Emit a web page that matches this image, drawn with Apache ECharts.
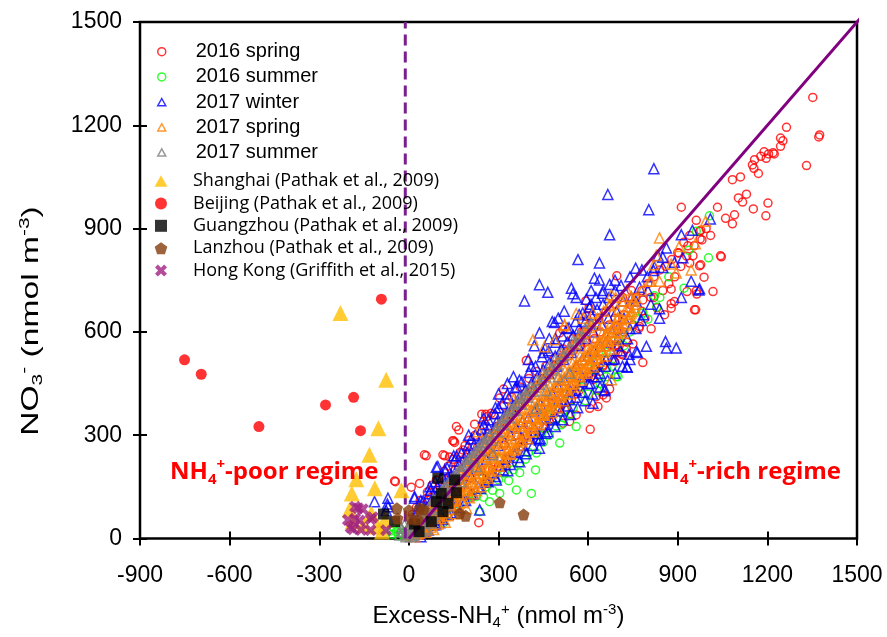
<!DOCTYPE html>
<html><head><meta charset="utf-8">
<script src="https://cdn.jsdelivr.net/npm/echarts@6/dist/echarts.min.js"></script>
<style>html,body{margin:0;padding:0;background:#fff}#c{width:887px;height:637px}</style>
</head><body><div id="c"></div>
<script>
const xTicks = [-900,-600,-300,0,300,600,900,1200,1500];
const yTicks = [0,300,600,900,1200,1500];
const legendNames = ['2016 spring','2016 summer','2017 winter','2017 spring','2017 summer','Shanghai (Pathak et al., 2009)','Beijing (Pathak et al., 2009)','Guangzhou (Pathak et al., 2009)','Lanzhou (Pathak et al., 2009)','Hong Kong (Griffith et al., 2015)'];
const oneToOne = [[0,0],[1515,1515]];
const dashedX = -12;

const spring2016 = [
[1352,1281],[1264,1194],[1244,1163],[1252,1155],[1244,1139],[1372,1166],[1375,1172],[1189,1123],[1178,1110],[1196,1104],[1204,1117],[1219,1120],[1223,1117],[1157,1100],[1150,1085],[1155,1075],[1331,1083],[1083,1042],[1103,989],[1117,977],[1033,962],[1153,957],[1202,974],[1090,940],[1195,937],[1083,914],[1043,821],[1046,818],[988,759],[1018,717],[977,795],[981,867],[977,895],[912,962],[962,924],[973,892],[934,850],[904,829],[951,821],[940,800],[931,717],[964,710],[878,724],[878,682],[878,669],[856,650],[956,664],[960,664],[811,609],[772,616],[750,565],[728,550],[783,511],[716,533],[689,514],[672,434],[700,562],[675,562],[700,618],[696,763],[889,688],[973,792],[962,719],[783,693],
[592,690],[603,669],[393,517],[317,434],[304,408],[244,361],[262,354],[159,325],[167,315],[220,332],[147,284],[114,243],[136,237],[181,257],[516,606],[505,597],[571,558],[594,645],[257,361],[276,364],[150,283],[58,240],[120,240],[-48,167],[8,149],[52,243],[36,160],[153,279],[-45,165],
[678,562],[711,536],[650,504],[638,485],[616,461],[603,480],[661,408],[650,417],[627,412],[633,383],[605,378],[544,403],[527,374],[560,359],[607,317],[516,335],[493,349],[471,359],[326,209],[376,267],[538,340],[521,374],[234,46],
[0,25],[10,45],[20,60],[30,20],[40,80],[50,95],[55,30],[65,110],[75,120],[85,60],[95,140],[105,150],[115,90],[125,170],[135,180],[145,120],[155,200],[165,210],[175,150],[185,225],[195,235],[205,175],[215,250],[230,265],[240,200],[255,290],[270,305],[280,240],[295,325],[310,340],[320,270],[335,360],[350,375],[360,300],[375,395],[390,410],[400,330],[415,430],[430,445],[440,360],[455,465],[470,480],[480,390],[495,500],[510,515],[520,420],[535,530],[550,545],[560,450],[575,560],[590,570],[600,470],[620,580],[640,600],[650,500],[670,620],[690,640],[700,540],[720,650],[740,680],[760,700],[780,720],[800,740],[820,760],[840,780],[860,790],[880,810],[900,830],[920,860],[940,880],
[12,70],[25,90],[38,110],[45,10],[62,135],[78,155],[92,170],[102,50],[118,195],[132,210],[148,230],[162,95],[172,250],[188,270],[202,285],[222,300],[248,330],[262,160],[285,360],[300,210],[318,385],[345,410],[372,440],[395,300],[402,465],[428,485],[450,320],[458,500],[488,525],[505,380],[518,550],[548,580],[570,430],[578,600],[605,620],[625,490],[635,640],[660,660],[680,520],[690,680],[715,700],[730,570],[745,720],[770,610],[790,640],[810,700],[830,670],[850,720],[870,740],[890,760],[910,790],[930,820],[955,850],[975,870],[995,900],[1010,880],[1060,930],[1110,1050],[1130,1000],[1170,1060],
[18,35],[33,55],[52,75],[68,95],[88,115],[108,128],[126,150],[146,168],[166,188],[186,206],[206,226],[226,244],[246,266],[266,284],[286,302],[306,322],[326,344],[346,362],[366,384],[386,402],[406,424],[426,442],[446,462],[466,480],[486,500],[506,520],[526,540],[546,562],[566,580],[586,600],
[210,120],[280,200],[330,230],[370,280],[420,300],[470,340],[510,390],[560,420],[610,470],[640,520],[690,560],[720,600],[750,620],[780,660],[820,700]
];
const summer2016 = [
[505,277],[424,199],[410,131],[360,141],[371,219],[270,107],[304,131],[560,325],[226,122],[237,78],[114,44],[493,327],[427,248],[334,168],[371,191],[700,470],[616,512],[661,495],[694,470],[661,470],[822,705],[783,655],[800,637],[921,727],[937,837],[962,892],[1006,937],[1003,815],[600,420],[640,450],[550,380],[520,350],[470,300],[450,280],[400,250],[350,200],[300,170],[260,150],[200,120],[150,90],[100,70],[60,40],[30,15],[-42,20],[-55,12],[-30,28],[-20,10],[-10,20],[-50,30],[-35,8],[-60,22],[-25,18],[0,5],[10,12],[480,380],[580,440],[660,540],[740,600],[720,560],[760,640],[840,700],[870,760],[620,490],[530,420],[460,360],[702,582],[830,672],[560,470],
[50,20],[80,35],[130,70],[170,100],[210,130],[250,120],[280,140],[320,190],[390,230],[440,300],[510,330],[540,360],[590,400],[630,430],[680,500],[250,180],[300,230]
];
const winter2017 = [
[20,40],[35,60],[50,85],[60,50],[75,110],[90,120],[100,80],[110,140],[125,100],[135,165],[150,180],[160,140],[175,200],[185,160],[200,235],[210,180],[225,255],[235,200],[250,280],[260,230],[270,300],[280,250],[290,320],[300,270],[310,340],[320,280],[330,365],[340,300],[350,385],[360,320],[370,410],[380,340],[390,430],[400,350],[410,450],[420,370],[430,470],[440,390],[450,490],[460,400],[470,510],[480,420],[490,530],[500,440],[510,550],[520,460],[530,570],[540,480],[550,590],[560,500],[570,610],[580,520],[590,630],[600,530],[610,650],[620,545],[630,665],[640,560],[650,680],[660,570],[670,700],[680,600],[690,720],[700,610],[710,735],[720,640],[740,760],[760,690],[780,780],[800,720],
[427,291],[458,306],[393,246],[371,223],[293,170],[331,197],[538,403],[616,393],[689,521],[657,432],[437,286],[437,262],[261,170],[500,380],[560,430],[600,450],[640,480],[520,400],[480,350],[580,470],[350,250],[320,230],[620,470],[700,560],[737,535],[730,499],[795,558],[859,572],[895,553],[862,553],[761,543],[778,633],[839,640],[839,667],[912,700],[945,747],[973,725],[917,815],[889,802],[850,817],[822,788],[759,785],[862,844],[912,882],[949,895],[1009,928],[834,821],[850,787],[819,778],[971,722],[655,429],[731,497],
[820,1074],[666,999],[803,955],[672,882],[566,810],[638,800],[621,756],[638,751],[544,727],[549,711],[465,715],[437,737],[594,695],[480,630],[437,597],[387,690],[488,627],[456,553],[362,440],[92,207],[19,117],[-76,81],[237,83],[103,46],[-115,107],[-70,117],[-72,100],[-70,92],[97,209],[19,122],[500,640],[520,660],[400,520],[350,470],[300,420],[250,350],[200,300],[150,240],[300,380],[330,450],[420,560],[470,580],[560,700],[610,720],
[15,55],[28,75],[42,95],[55,20],[68,130],[82,40],[95,150],[108,60],[118,160],[132,70],[142,185],[158,95],[168,215],[182,110],[195,250],[208,130],[218,270],[232,150],[245,295],[258,170],[268,320],[282,190],[295,340],[305,210],[318,355],[332,235],[345,375],[358,250],[368,395],[382,270],[395,420],[408,290],[418,440],[432,305],[445,460],[458,330],[468,480],[482,345],[495,500],[508,370],[518,520],[532,385],[545,540],[558,410],[568,560],[582,425],[595,580],[608,450],[618,600],[632,470],[645,620],[658,500],[668,640],[682,520],[695,660],[708,545],[718,690],[732,580],[745,700],[760,610],[772,730],[785,650],[798,760],[810,680],[40,110],[70,150],[120,200],[160,240],[210,290],[250,330],[290,380],[330,420],[370,460],[410,500],[450,540],[490,580],[530,610],[570,650],[610,680],[650,720],[690,750],[380,290],[420,320],[460,350],[500,400],[540,430],[580,455],[620,500],[660,520],[700,580],[740,610],
[25,80],[48,110],[72,140],[88,165],[112,180],[128,205],[152,225],[176,248],[198,270],[222,300],[244,318],[266,345],[288,362],[312,392],[334,408],[356,438],[378,455],[402,482],[424,500],[446,528],[468,545],[492,570],[514,588],[536,612],[558,630],[582,655],[604,672],[626,700],[648,712],[672,738],
[40,5],[65,25],[90,40],[115,55],[140,75],[165,90],[190,110],[215,130],[240,145],[265,165],[290,180],[315,200],[340,215],[365,235],[390,255],[415,270],[440,290],[465,310],[490,325],[515,345],[540,360],[565,380],[590,400],[615,420],[640,440],[665,460],[690,480],[715,500],[740,520],[765,540]
];
const spring2017 = [
[15,20],[25,12],[30,38],[40,30],[45,55],[50,40],[60,48],[65,75],[70,60],[80,70],[85,95],[90,78],[100,92],[105,120],[110,100],[120,108],[125,140],[130,118],[140,128],[145,160],[150,135],[160,150],[165,175],[170,150],[180,165],[185,200],[190,172],[200,180],[205,225],[210,190],[220,200],[225,240],[230,208],[240,220],[245,262],[250,225],[260,238],[265,280],[270,245],[280,255],[285,300],[290,262],[300,275],[305,320],[310,280],[320,290],[325,340],[330,300],[340,312],[345,360],[350,320],[360,330],[365,380],[370,335],[380,345],[385,400],[390,352],[400,365],[405,420],[410,372],[420,380],[425,440],[430,390],[440,400],[445,458],[450,405],[460,415],[465,478],[470,425],[480,432],[485,495],[490,440],[500,450],[505,515],[510,460],[520,468],[525,535],[530,478],[540,485],[545,555],[550,495],[560,505],[565,575],[570,510],[580,520],[585,595],[590,530],[600,540],[605,612],[610,548],[620,555],[625,630],[630,560],[640,570],[650,578],[660,590],[670,600],[680,610],[690,625],[700,640],
[240,180],[300,235],[350,280],[400,330],[450,378],[500,420],[550,470],[600,510],[380,310],[420,350],[460,390],[520,440],[560,480],[620,520],[330,262],[270,210],[200,150],[150,110],[100,70],[60,30],[480,400],[440,360],[580,490],
[993,921],[839,873],[905,848],[959,856],[945,780],[828,822],[820,795],[839,747],[878,797],[895,771],[806,747],[678,708],[730,722],[744,703],[583,640],[521,621],[488,577],[454,557],[415,577],[521,618],[560,653],[616,655],[672,676],[232,310],[349,403],[678,461],[811,747],[720,690],[760,700],[700,660],[650,620],[740,650],[780,720],[760,680],[-5,10],[5,30],
[20,5],[22,45],[35,15],[38,52],[48,25],[55,68],[58,35],[68,50],[72,88],[78,40],[88,60],[92,105],[98,65],[108,80],[112,128],[118,75],[128,95],[133,150],[138,100],[148,115],[152,170],[158,110],[168,130],[172,190],[178,125],[188,145],[192,210],[198,140],[208,160],[212,232],[218,150],[228,175],[232,250],[238,160],[248,190],[252,270],[258,180],[268,205],[272,292],[278,200],[288,220],[292,312],[298,210],[308,235],[312,332],[318,225],[328,250],[332,352],[338,245],[348,265],[352,372],[358,260],[368,285],[372,392],[378,280],[388,300],[392,412],[398,290],[408,320],[412,430],[418,310],[428,340],[432,450],[438,330],[448,358],[452,470],[458,350],[468,378],[472,488],[478,365],[488,395],[492,508],[498,380],[508,415],[512,525],[518,400],[528,430],[532,545],[538,420],[548,450],[552,565],[558,440],[568,470],[572,585],[578,460],[588,488],[592,600],[598,480],[608,505],[612,618],[618,498],[628,525],[632,640],[638,515],[648,540],[652,660],[658,530],[668,560],[672,680],[678,550],[688,580],[692,700],[698,575],[708,600],[712,690],[718,595],[728,620],[738,640],[748,660],
[30,14],[32,47],[44,22],[47,63],[57,18],[61,52],[73,33],[76,82],[83,26],[89,71],[97,42],[101,109],[107,58],[113,92],[122,47],[126,117],[131,66],[137,146],[143,84],[147,108],[156,72],[161,133],[166,95],[173,162],[181,104],[186,139],[193,88],[197,186],[203,118],[211,165],[216,130],[221,214],[227,139],[234,188],[242,150],[247,236],[253,166],[259,205],[266,175],[271,262],[276,187],[283,232],[291,196],[296,285],[302,210],[309,258],[316,221],[321,308],[327,236],[334,279],[341,246],[347,331],[353,257],[361,304],[367,270],[373,352],[379,284],[386,327],[393,296],[399,376],[404,310],[411,351],[417,321],[423,398],[429,333],[436,376],[442,346],[448,420],[454,358],[461,399],[467,372],[473,442],[479,385],[486,423],[492,397],[499,463],[505,410],[511,446],[517,421],[523,487],[529,433],[536,470],[542,447],[548,509],[554,458],[561,495],[567,472],[573,530],[579,484],[586,517],[592,497],[598,552],[604,509],[611,541],[617,522],[623,574],[629,534],[636,566],[642,548],[648,596],[654,560],[661,590],[667,573],[673,619],[679,586],[686,613],[692,598],[698,640],[705,612],[711,636],[717,624],[724,660],[731,640],[737,672],[744,655],[751,690],[758,670]
];
const summer2017 = [
[-30,10],[-20,20],[-10,5],[-5,30],[0,15],[5,40],[10,25],[15,8],[20,50],[25,30],[30,60],[35,20],[40,45],[45,70],[50,55],[55,30],[60,80],[65,60],[70,95],[75,45],[80,100],[85,70],[90,115],[95,85],[100,125],[105,100],[110,140],[115,90],[120,150],[125,110],[130,160],[135,125],[140,170],[150,180],[155,140],[160,190],[170,200],[175,165],[180,210],[190,222],[200,230],[210,240],[220,250],[230,262],[240,270],[250,280],[260,290],[270,300],[281,243],[290,318],[300,330],[310,340],[320,352],[330,360],[340,372],[350,380],[360,392],[371,408],[380,410],[390,420],[400,432],[410,440],[427,378],[430,460],[450,480],[470,500],[490,520],[510,540],[538,480],[226,209],[550,575],[570,590],[590,610],[610,625],[500,470],[460,430],
[10,55],[30,45],[45,85],[62,70],[82,115],[100,110],[118,135],[138,150],[158,175],[178,195],[198,215],[218,235],[238,255],[258,275],[278,285],[298,310],[318,330],[338,350],[358,372],[378,390],[398,410],[418,428],[438,448],[458,470],[478,490],[498,505],[518,530],[540,550],[560,565],[580,585],[-15,40],[-25,30],[5,5],[20,12],[40,20],[60,25],[80,60],[100,90],[120,100]
];
const shanghai = [[-229,655],[-76,461],[-102,320],[-132,243],[-176,172],[-114,146],[-191,131],[-25,140],[-198,85],[-126,73],[-188,50],[-150,40],[-105,35],[-81,54],[-90,20]];
const beijing = [[-92,695],[-751,519],[-695,477],[-502,325],[-279,388],[-185,410],[-162,313]];
const guangzhou = [[-85,71],[-48,49],[19,42],[34,20],[75,49],[92,107],[97,175],[108,131],[114,78],[131,102],[153,170],[159,133]];
const lanzhou = [[-40,88],[-38,58],[0,82],[8,57],[30,56],[36,88],[50,84],[170,73],[190,66],[304,105],[384,70]];
const hongkong = [[-180,92],[-170,88],[-154,85],[-204,54],[-180,58],[-165,52],[-121,62],[-128,56],[-187,27],[-160,25],[-128,24],[-76,24],[-195,32]];

const P_CIRCLE = 'path://M10,5A5,5,0,1,1,0,5A5,5,0,1,1,10,5Z';
const P_TRI = 'path://M5,0L10,9L0,9Z';
const P_SQ = 'path://M0,0L10,0L10,10L0,10Z';
const P_PENT = 'path://M5,0L10,3.6L8.1,9.5L1.9,9.5L0,3.6Z';
const P_CROSS = 'path://M0,2.4L2.4,0L5,2.6L7.6,0L10,2.4L7.4,5L10,7.6L7.6,10L5,7.4L2.4,10L0,7.6L2.6,5Z';

const C = {red:'#FF0000', green:'#00FF00', blue:'#0000FF', orange:'#FF8000', gray:'#808080', gold:'#FFC000', black:'#000000', brown:'#843C0C', magenta:'#A0217F', purple:'#800080'};
const hollow = c => ({color:'rgba(255,255,255,0)', borderColor:c, borderWidth:1.5});
const solid = c => ({color:c, borderWidth:0});

const FONT = "'Liberation Sans', Arial, sans-serif";
const FONT2 = "'Open Sans', 'Noto Sans', sans-serif";

const chart = echarts.init(document.getElementById('c'), null, {renderer:'canvas'});

const plainNum = v => String(v);
const TICK_HALF = 7;

const titleRich = (fs, sfs) => ({
  a:{fontFamily:FONT, fontSize:fs, color:'#000', fill:'#000', lineHeight:fs+4},
  s:{fontFamily:FONT, fontSize:sfs, color:'#000', fill:'#000', lineHeight:10, verticalAlign:'bottom'},
  p:{fontFamily:FONT, fontSize:sfs, color:'#000', fill:'#000', lineHeight:12, verticalAlign:'top'}
});
const regimeRich = {
  a:{fontFamily:FONT2, fontSize:24, fontWeight:'bold', fill:'#FF0000', color:'#FF0000', lineHeight:30},
  b:{fontFamily:FONT2, fontSize:15, fontWeight:'bold', fill:'#FF0000', color:'#FF0000', lineHeight:10, verticalAlign:'bottom'},
  c:{fontFamily:FONT2, fontSize:15, fontWeight:'bold', fill:'#FF0000', color:'#FF0000', lineHeight:12, verticalAlign:'top'}
};

const option = {
  animation:false,
  backgroundColor:'#fff',
  grid:{left:140, right:30, top:22, bottom:98.5, show:true, borderColor:'#000', borderWidth:2.5, backgroundColor:'rgba(0,0,0,0)', containLabel:false, outerBoundsMode:'none'},
  xAxis:{
    type:'value', min:xTicks[0], max:xTicks[xTicks.length-1], interval:xTicks[1]-xTicks[0],
    position:'bottom', offset:-TICK_HALF, splitLine:{show:false},
    axisLine:{show:false, onZero:false},
    axisTick:{show:true, inside:false, length:2*TICK_HALF, lineStyle:{color:'#000', width:2}},
    axisLabel:{show:true, margin:26+TICK_HALF, color:'#000', fontFamily:FONT, fontSize:23, formatter:plainNum, hideOverlap:false, showMinLabel:true, showMaxLabel:true},
    name:'{a|Excess-NH}{s|4}{p|+}{a| (nmol m}{p|-3}{a|)}',
    nameLocation:'middle', nameGap:64+TICK_HALF,
    nameTextStyle:{rich:titleRich(24,15)}
  },
  yAxis:{
    type:'value', min:yTicks[0], max:yTicks[yTicks.length-1], interval:yTicks[1]-yTicks[0],
    position:'left', offset:-TICK_HALF, splitLine:{show:false},
    axisLine:{show:false, onZero:false},
    axisTick:{show:true, inside:false, length:2*TICK_HALF, lineStyle:{color:'#000', width:2}},
    axisLabel:{show:true, margin:18+TICK_HALF, color:'#000', fontFamily:FONT, fontSize:23, formatter:plainNum, showMinLabel:true, showMaxLabel:true}
  },
  legend:[
    {orient:'vertical', left:157, top:41.7, padding:0, itemWidth:8, itemHeight:8, itemGap:5.2, selectedMode:false,
     textStyle:{fontFamily:FONT, fontSize:20, color:'#000', lineHeight:20, padding:[0,0,0,25]},
     data:[
      {name:legendNames[0], icon:P_CIRCLE, itemStyle:hollow(C.red)},
      {name:legendNames[1], icon:P_CIRCLE, itemStyle:hollow(C.green)},
      {name:legendNames[2], icon:P_TRI, itemStyle:hollow(C.blue)},
      {name:legendNames[3], icon:P_TRI, itemStyle:hollow(C.orange)},
      {name:legendNames[4], icon:P_TRI, itemStyle:hollow(C.gray)}
     ]},
    {orient:'vertical', left:154.5, top:171, padding:0, itemWidth:13, itemHeight:12, itemGap:2.4, selectedMode:false,
     textStyle:{fontFamily:FONT2, fontSize:18, color:'#000', lineHeight:20, padding:[0,0,0,20.5]},
     data:[
      {name:legendNames[5], icon:P_TRI, itemStyle:solid(C.gold)},
      {name:legendNames[6], icon:P_CIRCLE, itemStyle:solid(C.red)},
      {name:legendNames[7], icon:P_SQ, itemStyle:solid(C.black)},
      {name:legendNames[8], icon:P_PENT, itemStyle:solid(C.brown)},
      {name:legendNames[9], icon:P_CROSS, itemStyle:solid(C.magenta)}
     ]}
  ],
  graphic:[
    {type:'text', x:31, y:321, rotation:Math.PI/2, scaleX:1.4, z:100, silent:true, style:{
      text:'{a|NO}{s|3}{p|-}{a| (nmol m}{p|-3}{a|)}', align:'center', verticalAlign:'middle',
      rich:titleRich(24,15)}},
    {type:'text', x:170, y:472, z:100, silent:true, style:{
      text:'{a|NH}{b|4}{c|+}{a|-poor regime}', verticalAlign:'middle', align:'left', rich:regimeRich}},
    {type:'text', x:642, y:472, z:100, silent:true, style:{
      text:'{a|NH}{b|4}{c|+}{a|-rich regime}', verticalAlign:'middle', align:'left', rich:regimeRich}}
  ],
  series:[
    {name:legendNames[0], type:'scatter', data:spring2016, symbol:'circle', symbolSize:8, itemStyle:hollow(C.red), z:2, silent:true},
    {name:legendNames[1], type:'scatter', data:summer2016, symbol:'circle', symbolSize:8, itemStyle:hollow(C.green), z:2, silent:true},
    {name:legendNames[2], type:'scatter', data:winter2017, symbol:'triangle', symbolSize:10, itemStyle:hollow(C.blue), z:2, silent:true},
    {name:legendNames[3], type:'scatter', data:spring2017, symbol:'triangle', symbolSize:10, itemStyle:hollow(C.orange), z:2, silent:true},
    {name:legendNames[4], type:'scatter', data:summer2017, symbol:'triangle', symbolSize:10, itemStyle:hollow(C.gray), z:2, silent:true},
    {name:'1:1', type:'line', data:oneToOne, symbol:'none', showSymbol:false, clip:false, lineStyle:{color:C.purple, width:3}, z:3, silent:true},
    {name:'boundary', type:'line', data:[[dashedX,yTicks[0]],[dashedX,yTicks[yTicks.length-1]]], symbol:'none', showSymbol:false, lineStyle:{color:'#7B1F8E', width:3, type:[11,6]}, z:3, silent:true},
    {name:legendNames[5], type:'scatter', data:shanghai, symbol:'triangle', symbolSize:16, itemStyle:solid(C.gold), z:4, silent:true},
    {name:legendNames[6], type:'scatter', data:beijing, symbol:'circle', symbolSize:11, itemStyle:solid(C.red), z:4, silent:true},
    {name:legendNames[7], type:'scatter', data:guangzhou, symbol:'rect', symbolSize:11, itemStyle:solid(C.black), z:4, silent:true},
    {name:legendNames[8], type:'scatter', data:lanzhou, symbol:P_PENT, symbolSize:12, itemStyle:solid(C.brown), z:4, silent:true},
    {name:legendNames[9], type:'scatter', data:hongkong, symbol:P_CROSS, symbolSize:12, itemStyle:solid(C.magenta), z:4, silent:true}
  ]
};
chart.setOption(option);
</script>
</body></html>
